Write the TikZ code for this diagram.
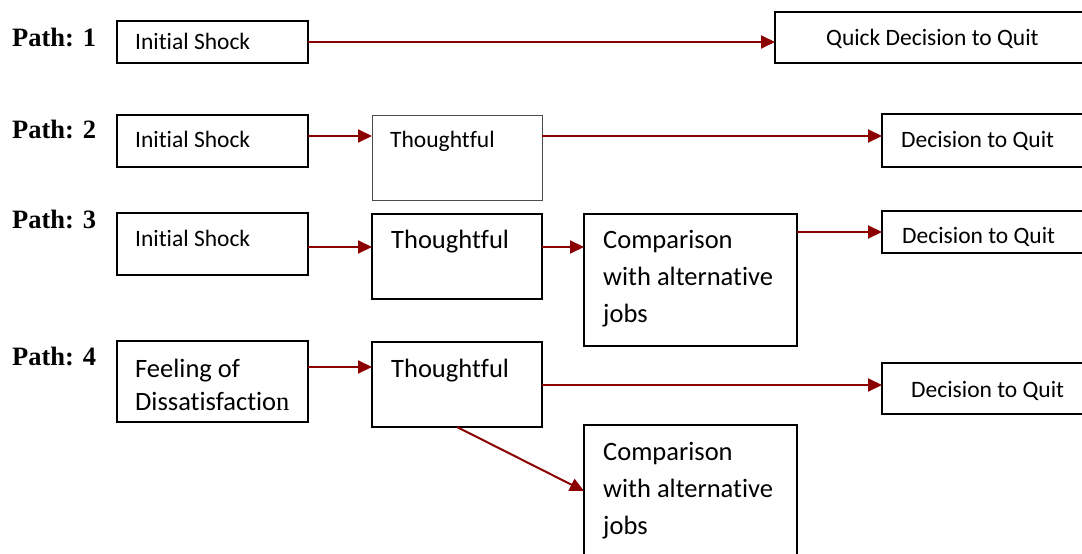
\documentclass[tikz,border=0pt]{standalone}
\usepackage{fontspec}
\setmainfont{Carlito}[Ligatures=NoCommon]
\newfontfamily\timesfont{Liberation Serif}
\usetikzlibrary{arrows.meta}
\definecolor{arrred}{RGB}{139,0,0}
\tikzset{
  box/.style={draw=black, line width=1.4pt, anchor=north west, inner sep=0pt, outer sep=0pt},
  thinbox/.style={box, draw=black!70, line width=1pt},
  arr/.style={draw=arrred, line width=2pt, -{Triangle[length=14pt,width=13pt]}},
  small/.style={anchor=base west, inner sep=0pt, font=\fontsize{23.5}{28}\selectfont},
  large/.style={anchor=base west, inner sep=0pt, font=\fontsize{26.5}{37}\selectfont},
  pathlabel/.style={anchor=base west, inner sep=0pt, font=\timesfont\bfseries\fontsize{26.5}{30}\selectfont},
}
\begin{document}
\begin{tikzpicture}[x=1pt,y=-1pt]
\useasboundingbox (0,0) rectangle (1082,554);
\clip (0,0) rectangle (1082,554);
% boxes
\node[box, minimum width=191pt, minimum height=42pt] (is1) at (117,21) {};
\node[box, minimum width=325pt, minimum height=51pt] (qd1) at (775,12) {};
\node[box, minimum width=191pt, minimum height=52pt] (is2) at (117,115) {};
\node[thinbox, minimum width=170pt, minimum height=85pt] (th2) at (372,115) {};
\node[box, minimum width=218pt, minimum height=53pt] (dq2) at (882,114) {};
\node[box, minimum width=191pt, minimum height=62pt] (is3) at (117,213) {};
\node[box, minimum width=170pt, minimum height=85pt] (th3) at (372,214) {};
\node[box, minimum width=213pt, minimum height=132pt] (cp3) at (584,214) {};
\node[box, minimum width=218pt, minimum height=42pt] (dq3) at (882,211) {};
\node[box, minimum width=191pt, minimum height=81pt] (fd4) at (117,341) {};
\node[box, minimum width=170pt, minimum height=85pt] (th4) at (372,342) {};
\node[box, minimum width=218pt, minimum height=51pt] (dq4) at (882,363) {};
\node[box, minimum width=213pt, minimum height=145pt] (cp4) at (584,425) {};
% path labels
\node[pathlabel] (p1) at (12,46) {Path: 1};
\node[pathlabel] (p2) at (12,138) {Path: 2};
\node[pathlabel] (p3) at (12,228) {Path: 3};
\node[pathlabel] (p4) at (12,365) {Path: 4};
% texts
\node[small] (tis1) at (135,49) {Initial Shock};
\node[small] (tqd1) at (826,45) {Quick Decision to Quit};
\node[small] (tis2) at (135,147) {Initial Shock};
\node[small] (tth2) at (390,147) {Thoughtful};
\node[small] (tdq2) at (901,147) {Decision to Quit};
\node[small] (tis3) at (135,246) {Initial Shock};
\node[large] (tth3) at (391,248) {Thoughtful};
\node[large] (tcp3) at (603,248) {\vtop{\hbox{Comparison}\hbox{with alternative}\hbox{jobs}}};
\node[small] (tdq3) at (902,243) {Decision to Quit};
\node[large] (tfd4) at (135,377) {\vtop{\baselineskip=33.5pt\hbox{Feeling of}\hbox{Dissatisfactio{\timesfont n}}}};
\node[large] (tth4) at (391,377) {Thoughtful};
\node[small] (tdq4) at (911,397) {Decision to Quit};
\node[large] (tcp4) at (603,460) {\vtop{\hbox{Comparison}\hbox{with alternative}\hbox{jobs}}};
% arrows
\draw[arr] (is1.east |- 0,42) -- (qd1.west |- 0,42);
\draw[arr] (is2.east |- 0,136) -- (th2.west |- 0,136);
\draw[arr] (th2.east |- 0,136) -- (dq2.west |- 0,136);
\draw[arr] (is3.east |- 0,247) -- (th3.west |- 0,247);
\draw[arr] (th3.east |- 0,247) -- (cp3.west |- 0,247);
\draw[arr] (cp3.east |- 0,232) -- (dq3.west |- 0,232);
\draw[arr] (fd4.east |- 0,367) -- (th4.west |- 0,367);
\draw[arr] (th4.east |- 0,385) -- (dq4.west |- 0,385);
\draw[arr] (th4.south) -- (cp4.west |- 0,491);
\end{tikzpicture}
\end{document}
